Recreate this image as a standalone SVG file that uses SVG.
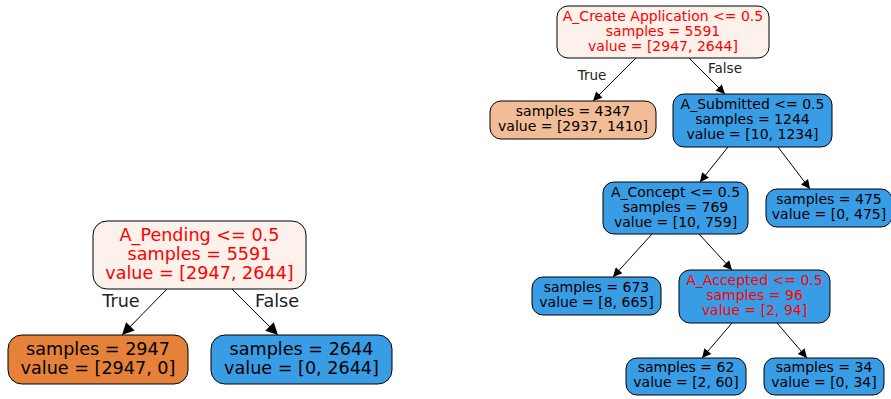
<svg xmlns="http://www.w3.org/2000/svg" width="891" height="399" viewBox="0 0 891 399">
  <defs>
    <marker id="arrowL" viewBox="0 0 10 10" refX="10" refY="5" markerWidth="14" markerHeight="12" markerUnits="userSpaceOnUse" orient="auto">
      <path d="M0,0 L10,5 L0,10 z" fill="#000"/>
    </marker>
    <marker id="arrowS" viewBox="0 0 10 10" refX="10" refY="5" markerWidth="11" markerHeight="9" markerUnits="userSpaceOnUse" orient="auto">
      <path d="M0,0 L10,5 L0,10 z" fill="#000"/>
    </marker>
  </defs>
  <style>
    text { font-family: "DejaVu Sans", "Liberation Sans", sans-serif; text-anchor: middle; fill: #000; }
    .big { font-size: 17.6px; }
    .small { font-size: 14px; }
    .lbl { font-size: 13.5px; fill: #222; }
    .lblBig { font-size: 17.6px; fill: #222; }
    .split text { fill: #ff0000; }
    .node rect { stroke: #000; stroke-width: 1; }
    .edges line { stroke: #000; stroke-width: 1; }
    .light { fill: #fcf2eb; }
    .orange { fill: #e58139; }
    .peach { fill: #f1bc96; }
    .blue { fill: #399de5; }
  </style>
  <rect x="0" y="0" width="891" height="399" fill="#fff"/>

  <!-- small tree: single split -->
  <g id="edges-left" class="edges">
    <line x1="167" y1="289" x2="122" y2="335" marker-end="url(#arrowL)"/>
    <line x1="232" y1="289" x2="278" y2="335" marker-end="url(#arrowL)"/>
    <text class="lblBig" x="121" y="307">True</text>
    <text class="lblBig" x="277" y="307">False</text>
  </g>
  <g id="pending" class="node split big">
    <rect class="light" x="93" y="221" width="213" height="68" rx="14"/>
    <text x="199.5" y="241">A_Pending &lt;= 0.5</text>
    <text x="199.5" y="260">samples = 5591</text>
    <text x="199.5" y="279">value = [2947, 2644]</text>
  </g>
  <g id="pending-true" class="node big">
    <rect class="orange" x="8" y="335" width="180" height="49" rx="14"/>
    <text x="98" y="355">samples = 2947</text>
    <text x="98" y="374">value = [2947, 0]</text>
  </g>
  <g id="pending-false" class="node big">
    <rect class="blue" x="211" y="335" width="181" height="49" rx="14"/>
    <text x="301.5" y="355">samples = 2644</text>
    <text x="301.5" y="374">value = [0, 2644]</text>
  </g>

  <!-- larger tree -->
  <g id="edges-right" class="edges">
    <line x1="636" y1="58" x2="593" y2="101" marker-end="url(#arrowS)"/>
    <line x1="689" y1="58" x2="725" y2="94" marker-end="url(#arrowS)"/>
    <line x1="728" y1="147" x2="700" y2="182" marker-end="url(#arrowS)"/>
    <line x1="778" y1="147" x2="810" y2="189" marker-end="url(#arrowS)"/>
    <line x1="652" y1="234" x2="613" y2="277" marker-end="url(#arrowS)"/>
    <line x1="699" y1="234" x2="732" y2="270" marker-end="url(#arrowS)"/>
    <line x1="732" y1="323" x2="702" y2="358" marker-end="url(#arrowS)"/>
    <line x1="777" y1="323" x2="807" y2="358" marker-end="url(#arrowS)"/>
    <text class="lbl" x="592" y="80">True</text>
    <text class="lbl" x="725" y="73">False</text>
  </g>
  <g id="create-application" class="node split small">
    <rect class="light" x="557" y="6" width="212" height="52" rx="11"/>
    <text x="663" y="21">A_Create Application &lt;= 0.5</text>
    <text x="663" y="36">samples = 5591</text>
    <text x="663" y="51">value = [2947, 2644]</text>
  </g>
  <g id="ca-true" class="node small">
    <rect class="peach" x="490" y="101" width="166" height="38" rx="11"/>
    <text x="573" y="116">samples = 4347</text>
    <text x="573" y="131">value = [2937, 1410]</text>
  </g>
  <g id="submitted" class="node small">
    <rect class="blue" x="673" y="94" width="159" height="53" rx="11"/>
    <text x="752.5" y="109">A_Submitted &lt;= 0.5</text>
    <text x="752.5" y="124">samples = 1244</text>
    <text x="752.5" y="139">value = [10, 1234]</text>
  </g>
  <g id="concept" class="node small">
    <rect class="blue" x="603" y="182" width="145" height="52" rx="11"/>
    <text x="675.5" y="197">A_Concept &lt;= 0.5</text>
    <text x="675.5" y="212">samples = 769</text>
    <text x="675.5" y="227">value = [10, 759]</text>
  </g>
  <g id="submitted-false" class="node small">
    <rect class="blue" x="766" y="189" width="126" height="38" rx="11"/>
    <text x="829" y="204">samples = 475</text>
    <text x="829" y="219">value = [0, 475]</text>
  </g>
  <g id="concept-true" class="node small">
    <rect class="blue" x="532" y="277" width="129" height="38" rx="11"/>
    <text x="596.5" y="292">samples = 673</text>
    <text x="596.5" y="307">value = [8, 665]</text>
  </g>
  <g id="accepted" class="node split small">
    <rect class="blue" x="679" y="270" width="151" height="53" rx="11"/>
    <text x="754.5" y="285">A_Accepted &lt;= 0.5</text>
    <text x="754.5" y="300">samples = 96</text>
    <text x="754.5" y="315">value = [2, 94]</text>
  </g>
  <g id="accepted-true" class="node small">
    <rect class="blue" x="626" y="358" width="120" height="37" rx="11"/>
    <text x="686" y="372">samples = 62</text>
    <text x="686" y="387">value = [2, 60]</text>
  </g>
  <g id="accepted-false" class="node small">
    <rect class="blue" x="764" y="358" width="120" height="37" rx="11"/>
    <text x="824" y="372">samples = 34</text>
    <text x="824" y="387">value = [0, 34]</text>
  </g>
</svg>
